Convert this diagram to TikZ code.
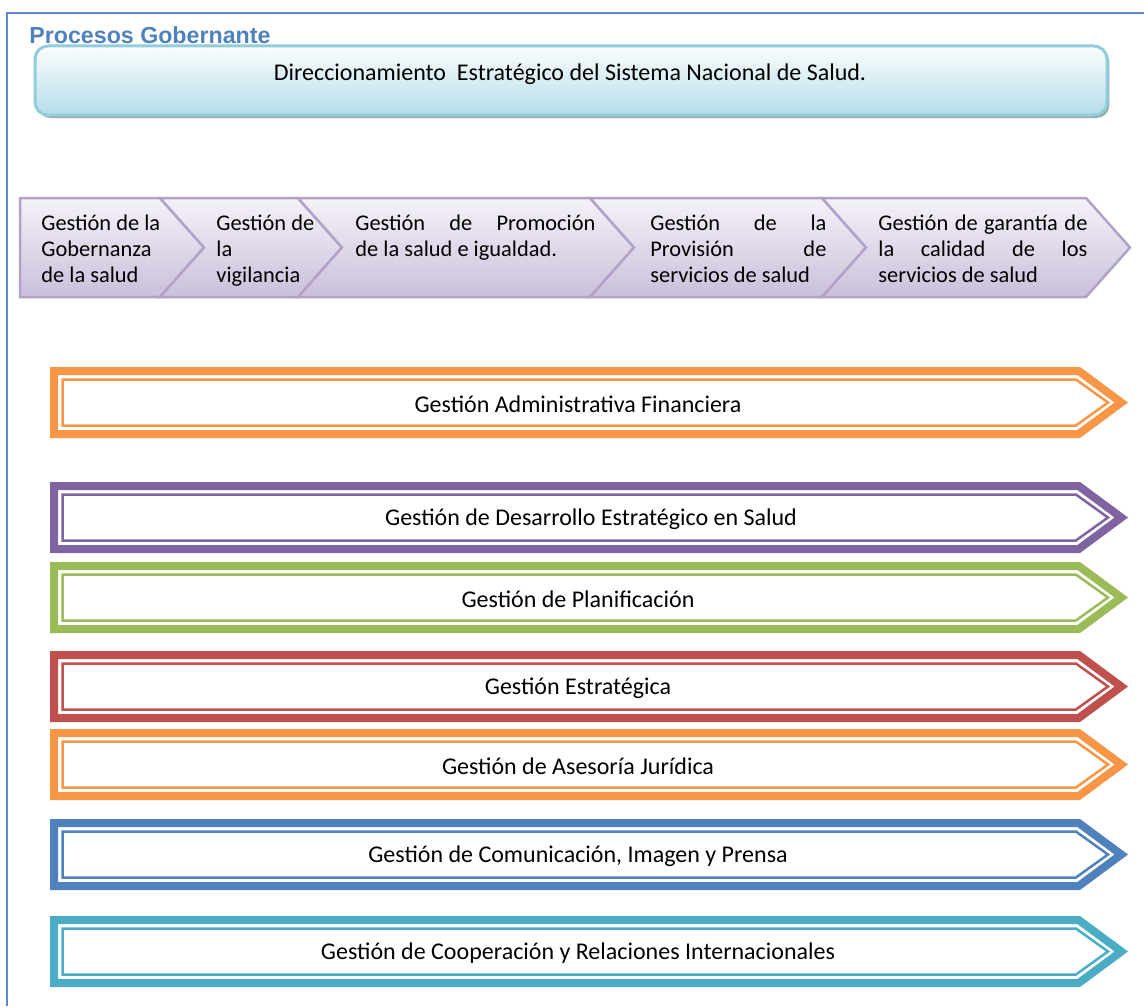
\documentclass[tikz,border=0pt]{standalone}
\usepackage{fontspec}
\setmainfont{Carlito}
\newfontfamily\headfont{Liberation Sans}
\usetikzlibrary{shadows}

\definecolor{frameblue}{HTML}{5B8BC9}
\definecolor{titleblue}{HTML}{4F81BD}
\definecolor{dirline}{HTML}{92CDDC}
\definecolor{dirtop}{HTML}{FBFDFE}
\definecolor{dirbot}{HTML}{B6DDE8}
\definecolor{dirshadow}{HTML}{94AAB2}
\definecolor{chevline}{HTML}{B3A2C7}
\definecolor{chevtop}{HTML}{F5F2F9}
\definecolor{chevbot}{HTML}{CBBFDA}
\definecolor{gorange}{HTML}{F79646}
\definecolor{gpurple}{HTML}{8064A2}
\definecolor{ggreen}{HTML}{9BBB59}
\definecolor{gred}{HTML}{C0504D}
\definecolor{gblue}{HTML}{4F81BD}
\definecolor{gteal}{HTML}{4BACC6}

\begin{document}
\begin{tikzpicture}[x=0.5pt, y=-0.5pt,
    dirbox/.style={draw=dirline, line width=1.5pt, rounded corners=6.5pt,
      top color=dirtop, bottom color=dirbot, inner sep=0pt,
      minimum width=536pt, minimum height=34.5pt,
      drop shadow={shadow xshift=1.2pt, shadow yshift=-1.5pt, fill=dirshadow, opacity=1}},
    chev/.style={draw=chevline, line width=1.25pt, line join=miter,
      top color=chevtop, bottom color=chevbot},
    chevtext/.style={anchor=base west, inner sep=0pt, font=\fontsize{11.2}{13}\selectfont},
    band/.style={line width=4pt, line join=miter},
    innerline/.style={line width=1.25pt, line join=miter},
    arrowtext/.style={inner sep=0pt, font=\fontsize{12}{14}\selectfont},
    procarrow/.pic={
      \draw[band] (54,4) -- (1078.7,4) -- (1121.3,35.5) -- (1078.7,67) -- (54,67) -- cycle;
      \draw[innerline] (62.5,12.5) -- (1075.9,12.5) -- (1108,35.5) -- (1075.9,58.5) -- (62.5,58.5) -- cycle;
    }]

  \useasboundingbox (0,0) rectangle (1144,1006);

  % FRAME AND HEADING

  \draw[frameblue, line width=1.1pt] (7,1006) -- (7,13) -- (1144,13);
  \node[anchor=base west, inner sep=0pt, text=titleblue, font=\headfont\bfseries\fontsize{11.6}{13}\selectfont] (title) at (29,44) {Procesos Gobernante};

  \node[dirbox] (dir) at (571,80.5) {};
  \node[inner sep=0pt, font=\fontsize{12}{14}\selectfont] (dirtext) at (570,74) {Direccionamiento\ \ Estratégico del Sistema Nacional de Salud.};

  % CHEVRONS

  \draw[chev] (20,198) -- (160,198) -- (204,247.5) -- (160,297) -- (20,297) -- cycle;
  \draw[chev] (160,198) -- (298,198) -- (342,247.5) -- (298,297) -- (160,297) -- (204,247.5) -- cycle;
  \draw[chev] (298,198) -- (590,198) -- (634,247.5) -- (590,297) -- (298,297) -- (342,247.5) -- cycle;
  \draw[chev] (590,198) -- (822,198) -- (866,247.5) -- (822,297) -- (590,297) -- (634,247.5) -- cycle;
  \draw[chev] (822,198) -- (1086,198) -- (1130,247.5) -- (1086,297) -- (822,297) -- (866,247.5) -- cycle;

  \node[chevtext, text width=80pt, align=flush left] (gob) at (41,230) {Gestión de la\\Gobernanza\\de la salud};
  \node[chevtext, text width=70pt, align=flush left] (vig) at (216,230) {Gestión de\\la\\vigilancia};
  \node[chevtext, text width=120pt, align=justify] (prom) at (355,230) {Gestión de Promoción\linebreak de la salud e igualdad.};
  \node[chevtext, text width=88pt, align=justify] (prov) at (650,230) {Gestión de la\linebreak Provisión de\linebreak servicios de salud};
  \node[chevtext, text width=104.5pt, align=justify] (cal) at (878,230) {Gestión de garantía de\linebreak la calidad de los\linebreak servicios de salud};

  % SUPPORT PROCESSES

  \pic[color=gorange] at (0,367) {procarrow};
  \node[arrowtext] (adm) at (578,404) {Gestión Administrativa Financiera};

  \pic[color=gpurple] at (0,482) {procarrow};
  \node[arrowtext] (des) at (591,519) {Gestión de Desarrollo Estratégico en Salud};

  \pic[color=ggreen] at (0,562) {procarrow};
  \node[arrowtext] (plan) at (578,599) {Gestión de Planificación};

  \pic[color=gred] at (0,651) {procarrow};
  \node[arrowtext] (estr) at (578,688) {Gestión Estratégica};

  \pic[color=gorange] at (0,729) {procarrow};
  \node[arrowtext] (jur) at (578,766) {Gestión de Asesoría Jurídica};

  \pic[color=gblue] at (0,819) {procarrow};
  \node[arrowtext] (com) at (578,856) {Gestión de Comunicación, Imagen y Prensa};

  \pic[color=gteal] at (0,916) {procarrow};
  \node[arrowtext] (coop) at (578,953) {Gestión de Cooperación y Relaciones Internacionales};
\end{tikzpicture}
\end{document}
